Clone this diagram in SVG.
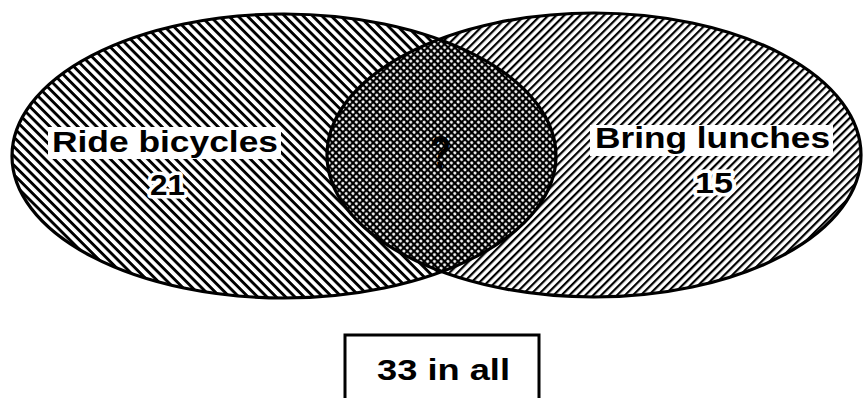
<svg xmlns="http://www.w3.org/2000/svg" width="865" height="398" viewBox="0 0 865 398">
<style>
.lbl{font-family:"Liberation Sans",Arial,sans-serif;font-weight:bold;fill:#000}
.num{paint-order:stroke;stroke:#fff;stroke-width:7;stroke-linejoin:round}
.outline{fill:none;stroke:#000;stroke-width:3.2}
.knock{fill:#fff}
</style>
<defs>
<pattern id="hatchL" width="10" height="6.6" patternUnits="userSpaceOnUse" patternTransform="rotate(45)">
<rect width="10" height="6.6" fill="#fff"/>
<rect y="0" width="10" height="2.9" fill="#000"/>
</pattern>
<pattern id="hatchR" width="10" height="5.6" patternUnits="userSpaceOnUse" patternTransform="rotate(-45)">
<rect width="10" height="5.6" fill="#fff"/>
<rect y="0" width="10" height="2.2" fill="#000"/>
</pattern>
<pattern id="dots" width="4.8" height="4.8" patternUnits="userSpaceOnUse" patternTransform="rotate(45)">
<rect width="4.8" height="4.8" fill="#000"/>
<circle cx="2.4" cy="2.4" r="1.5" fill="#fff"/>
</pattern>
<clipPath id="clipL">
<ellipse cx="284" cy="156" rx="272" ry="142"/>
</clipPath>
</defs>
<g id="set-bicycles">
<ellipse cx="284" cy="156" rx="272" ry="142" fill="url(#hatchL)"/>
</g>
<g id="set-lunches">
<ellipse cx="594" cy="155" rx="267" ry="142" fill="url(#hatchR)"/>
</g>
<g id="overlap">
<ellipse cx="594" cy="155" rx="267" ry="142" fill="url(#dots)" clip-path="url(#clipL)"/>
<text class="lbl" x="430" y="168" font-size="46" textLength="21" lengthAdjust="spacingAndGlyphs">?</text>
</g>
<g id="outlines">
<ellipse class="outline" cx="284" cy="156" rx="272" ry="142"/>
<ellipse class="outline" cx="594" cy="155" rx="267" ry="142"/>
</g>
<g id="label-bicycles">
<rect class="knock" x="48" y="127" width="233" height="32"/>
<text class="lbl" x="52" y="152" font-size="30" textLength="226" lengthAdjust="spacingAndGlyphs">Ride bicycles</text>
<text class="lbl num" x="150" y="195" font-size="30" textLength="35" lengthAdjust="spacingAndGlyphs">21</text>
</g>
<g id="label-lunches">
<rect class="knock" x="590" y="125" width="243" height="31"/>
<text class="lbl" x="595" y="148" font-size="29" textLength="235" lengthAdjust="spacingAndGlyphs">Bring lunches</text>
<text class="lbl num" x="695" y="193" font-size="29" textLength="38" lengthAdjust="spacingAndGlyphs">15</text>
</g>
<g id="total">
<path d="M345 400 V335 H539 V400" fill="#fff" stroke="#000" stroke-width="3"/>
<text class="lbl" x="377" y="380" font-size="30" textLength="133" lengthAdjust="spacingAndGlyphs">33 in all</text>
</g>
<g id="connectors"/>
</svg>
